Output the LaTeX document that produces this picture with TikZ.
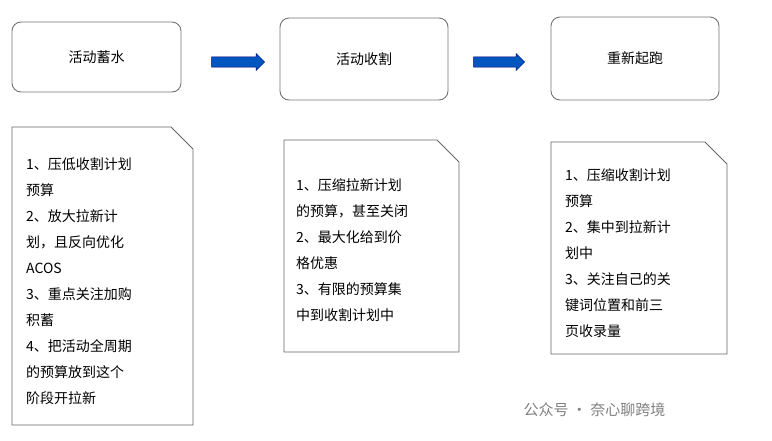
\documentclass[tikz,border=0pt]{standalone}
\usepackage{fontspec}
\setmainfont{Noto Sans CJK SC}
\usetikzlibrary{shapes.arrows}
\tikzset{
  stage/.style={draw=black!55, rounded corners=9pt, line width=0.9pt, minimum height=#1},
  doc/.style={draw=black!60, line width=0.9pt},
  flowarrow/.style={single arrow, fill=blue!55!cyan!75!black, draw=blue!45!black, minimum height=53pt, minimum width=17pt, single arrow head extend=3pt, inner xsep=0pt, inner ysep=4.5pt},
  txt/.style={anchor=north west, align=left, font=\fontsize{14}{26}\selectfont, inner sep=0pt}
}
\begin{document}
\begin{tikzpicture}[x=1pt,y=-1pt]
\useasboundingbox (0,0) rectangle (772,440);
% top stages
\node[stage=70pt, minimum width=169pt] (s1) at (96.5,57) {\fontsize{14}{16}\selectfont 活动蓄水};
\node[stage=82pt, minimum width=168pt] (s2) at (364,59) {\fontsize{14}{16}\selectfont 活动收割};
\node[stage=83pt, minimum width=168pt] (s3) at (635,58.5) {\fontsize{14}{16}\selectfont 重新起跑};
\node[flowarrow] (a1) at (235.5,62) {};
\node[flowarrow, minimum height=51pt] (a2) at (496.5,62) {};
% documents
\foreach \l/\t/\r/\b in {12/127/193/425, 284/140/459/352, 551/142/727/354}{
  \draw[doc] (\l,\t) -- (\r-22,\t) -- (\r,\t+22) -- (\r,\b) -- (\l,\b) -- cycle;
}
\node[txt] (d1) at (26,157) {1、压低收割计划\\预算\\2、放大拉新计\\划，且反向优化\\ACOS\\3、重点关注加购\\积蓄\\4、把活动全周期\\的预算放到这个\\阶段开拉新};
\node[txt] (d2) at (296,178) {1、压缩拉新计划\\的预算，甚至关闭\\2、最大化给到价\\格优惠\\3、有限的预算集\\中到收割计划中};
\node[txt] (d3) at (565,168) {1、压缩收割计划\\预算\\2、集中到拉新计\\划中\\3、关注自己的关\\键词位置和前三\\页收录量};
\node[anchor=west, text=black!50, font=\fontsize{15}{17}\selectfont] (wm) at (520,410) {公众号 · 奈心聊跨境};
\end{tikzpicture}
\end{document}
